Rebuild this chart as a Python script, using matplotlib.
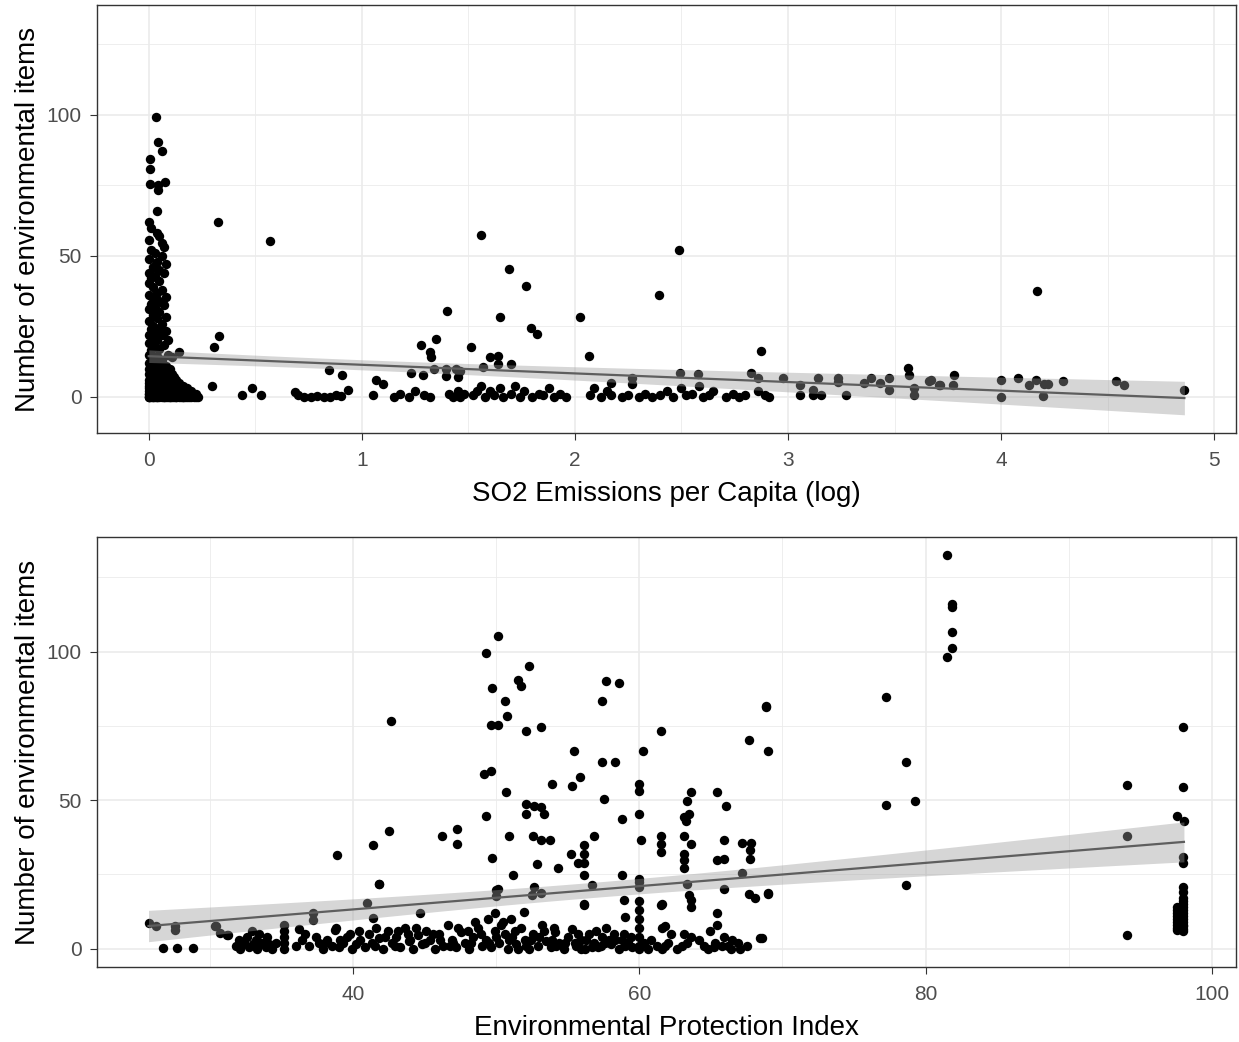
import numpy as np
import matplotlib
matplotlib.use("Agg")
import matplotlib.pyplot as plt

plt.rcParams['font.family'] = ['Liberation Sans', 'DejaVu Sans']

# ---- top panel: SO2 emissions (log) vs number of items ----
so2_near_zero = [
    (0.034, 99.2), (0.042, 90.5), (0.062, 87.2), (0.006, 84.4), (0.006, 81), (0.006, 75.4),
    (0.045, 75.2), (0.075, 76.3), (0.045, 73.4), (0.04, 66), (0.003, 62.2), (0.01, 59.8),
    (0.04, 58), (0.05, 56.9), (0.06, 54.5), (0.07, 53.3), (0.003, 55.7),
    (0.01, 52), (0.03, 51), (0.06, 50), (0.0, 49), (0.04, 48), (0.08, 47), (0.02, 46),
    (0.05, 45), (0.0, 44), (0.07, 44), (0.03, 43), (0.01, 42), (0.05, 41), (0.0, 40.4),
    (0.02, 39), (0.06, 38), (0.04, 37), (0.0, 36), (0.08, 35.5), (0.02, 35), (0.05, 34),
    (0.01, 33), (0.07, 32.5), (0.03, 32), (0.0, 31), (0.05, 30), (0.02, 29), (0.08, 28.5),
    (0.04, 28), (0.0, 27), (0.06, 26), (0.02, 25), (0.05, 24.5), (0.01, 24), (0.08, 23.5),
    (0.03, 23), (0.0, 22), (0.06, 22), (0.09, 20.2), (0.02, 21), (0.04, 20), (0.0, 19),
    (0.07, 18.5), (0.03, 18), (0.05, 17), (0.01, 16.5), (0.14, 16), (0.09, 15), (0.0, 15),
    (0.04, 14.5), (0.11, 14), (0.02, 13.5), (0.06, 13),
    (0.0, 12), (0.03, 12), (0.06, 12), (0.01, 11), (0.05, 11), (0.08, 11),
    (0.0, 10), (0.03, 10), (0.07, 10), (0.1, 10), (0.02, 9), (0.05, 9), (0.09, 9),
    (0.0, 8), (0.04, 8), (0.07, 8), (0.11, 8), (0.01, 7), (0.03, 7), (0.06, 7), (0.09, 7),
    (0.12, 7), (0.0, 6), (0.05, 6), (0.08, 6), (0.13, 6), (0.02, 5), (0.04, 5), (0.07, 5),
    (0.1, 5), (0.14, 5), (0.0, 4), (0.03, 4), (0.06, 4), (0.09, 4), (0.12, 4), (0.16, 4),
    (0.01, 3), (0.05, 3), (0.08, 3), (0.11, 3), (0.15, 3), (0.18, 3), (0.0, 2), (0.03, 2),
    (0.06, 2), (0.1, 2), (0.13, 2), (0.17, 2), (0.2, 2), (0.02, 1), (0.05, 1), (0.08, 1),
    (0.12, 1), (0.15, 1), (0.19, 1), (0.22, 1), (0.0, 0), (0.02, 0), (0.04, 0), (0.07, 0),
    (0.1, 0), (0.13, 0), (0.16, 0), (0.18, 0), (0.21, 0), (0.23, 0),
    (0.324, 62), (0.567, 55.4), (0.33, 21.6), (0.305, 17.6), (0.297, 3.9), (0.437, 0.6),
    (0.484, 3), (0.527, 0.7), (0.684, 1.9),
]
# overlapping low counts hidden inside the dense block near zero
so2_zero_stack = [
    (0.0, 0), (0.01, 0), (0.03, 0), (0.05, 0), (0.06, 0), (0.08, 0), (0.09, 0), (0.11, 0),
    (0.12, 0), (0.14, 0), (0.15, 0), (0.17, 0), (0.19, 0), (0.2, 0), (0.22, 0),
    (0.0, 1), (0.01, 1), (0.03, 1), (0.04, 1), (0.06, 1), (0.07, 1), (0.09, 1), (0.1, 1),
    (0.11, 1), (0.13, 1), (0.14, 1), (0.16, 1), (0.17, 1), (0.18, 1), (0.2, 1), (0.21, 1),
    (0.01, 2), (0.02, 2), (0.04, 2), (0.05, 2), (0.07, 2), (0.08, 2), (0.09, 2), (0.11, 2),
    (0.12, 2), (0.14, 2), (0.15, 2), (0.16, 2), (0.18, 2), (0.19, 2),
    (0.0, 3), (0.02, 3), (0.03, 3), (0.04, 3), (0.06, 3), (0.07, 3), (0.09, 3), (0.1, 3),
    (0.12, 3), (0.13, 3), (0.14, 3), (0.16, 3), (0.17, 3),
    (0.01, 4), (0.02, 4), (0.04, 4), (0.05, 4), (0.07, 4), (0.08, 4), (0.1, 4), (0.11, 4),
    (0.13, 4), (0.14, 4), (0.15, 4), (0.0, 5), (0.01, 5), (0.03, 5), (0.05, 5), (0.06, 5),
    (0.08, 5), (0.09, 5), (0.11, 5), (0.12, 5), (0.0, 0), (0.02, 0), (0.04, 0), (0.07, 0),
    (0.1, 0), (0.13, 0), (0.16, 0), (0.0, 1), (0.02, 1), (0.05, 1), (0.08, 1), (0.12, 1),
]
so2_middle = [
    (0.70, 0.5), (0.73, 0), (0.76, 0), (0.79, 0.3), (0.82, 0), (0.85, 0), (0.88, 0.5),
    (0.846, 9.6), (0.909, 7.8), (0.936, 2.5), (0.9, 0.3), (1.05, 0.5), (1.066, 6), (1.097, 4.6),
    (1.15, 0), (1.18, 1), (1.22, 0), (1.23, 8.4), (1.25, 2), (1.285, 7.8), (1.29, 0.5),
    (1.32, 0), (1.277, 18.3), (1.32, 16), (1.324, 14.3), (1.346, 20.4), (1.34, 10),
    (1.394, 10), (1.399, 30.3), (1.41, 1), (1.43, 0), (1.44, 10), (1.45, 2), (1.46, 9),
    (1.46, 0), (1.48, 1), (1.394, 7.5), (1.45, 7), (1.513, 17.7), (1.52, 0.5), (1.54, 2),
    (1.559, 57.4), (1.567, 10.7), (1.56, 4), (1.58, 0), (1.60, 14.3), (1.60, 2), (1.62, 0.5),
    (1.637, 11.7), (1.64, 14.5), (1.646, 28.3), (1.65, 3), (1.66, 0), (1.689, 45.4),
    (1.70, 11.7), (1.70, 1), (1.72, 4), (1.74, 0), (1.76, 2), (1.77, 39.5), (1.793, 24.3),
    (1.80, 0), (1.822, 22.3), (1.83, 1), (1.85, 0.5), (1.88, 3), (1.90, 0), (1.93, 1),
    (1.96, 0), (2.022, 28.3), (2.067, 14.4), (2.07, 0.5), (2.09, 3), (2.12, 0), (2.15, 2),
    (2.17, 5), (2.17, 0.5),
]
so2_right = [
    (2.22, 0), (2.25, 0.5), (2.27, 6.6), (2.27, 4.6), (2.30, 0), (2.33, 1), (2.36, 0),
    (2.393, 36.2), (2.40, 0.5), (2.43, 2), (2.46, 0), (2.487, 52.1), (2.494, 8.6), (2.50, 3),
    (2.52, 0.5), (2.55, 1), (2.576, 8.2), (2.58, 4), (2.60, 0), (2.63, 0.5), (2.65, 2),
    (2.71, 0), (2.74, 1), (2.77, 0), (2.80, 0.5), (2.826, 8.6), (2.857, 6.6), (2.873, 16.4),
    (2.86, 2), (2.89, 0.5), (2.91, 0), (2.978, 6.6), (3.056, 4.3), (3.056, 0.5), (3.115, 2.5),
    (3.139, 6.6), (3.115, 0.5), (3.155, 0.5), (3.233, 6.6), (3.233, 5.3), (3.27, 0.5),
    (3.358, 4.8), (3.39, 6.6), (3.433, 4.8), (3.476, 6.6), (3.476, 2.5), (3.561, 10.1),
    (3.569, 7.8), (3.59, 3.1), (3.59, 0.7), (3.663, 5.8), (3.71, 4.3),
    (3.671, 6), (3.715, 4.3), (3.773, 4.3), (3.78, 7.8), (4.0, 6), (4.0, 0.1), (4.078, 6.6),
    (4.169, 37.6), (4.133, 4.3), (4.164, 6), (4.203, 4.6), (4.196, 0.4), (4.22, 4.6),
    (4.292, 5.8), (4.537, 5.8), (4.579, 4.3), (4.86, 2.5),
]

# ---- bottom panel: EPI vs number of items ----
epi_left = [
    (25.7, 8.8), (26.2, 7.5), (27.56, 7.7), (27.56, 6.4), (26.74, 0.2), (27.67, 0.2),
    (28.79, 0.2), (30.35, 7.5), (30.44, 7.5), (30.7, 5.2), (31.16, 4.7), (31.26, 4.7),
    (31.8, 1), (32.1, 0), (32.4, 2), (32.7, 0.5), (32.9, 6), (33.0, 1.5), (33.3, 0),
    (33.4, 5), (33.6, 2), (33.9, 0.5), (34.1, 1.5), (34.3, 0), (35.2, 8), (35.2, 6),
    (35.2, 4), (35.2, 2), (35.2, 0), (36.2, 6.5), (36.4, 3), (36.9, 1), (37.19, 11.9),
    (37.2, 9.7), (37.6, 2), (37.9, 0), (38.2, 3), (38.5, 1), (38.7, 6.4), (38.77, 6.9),
    (38.88, 31.7), (39.0, 0.5), (39.3, 2), (39.6, 4), (39.9, 0), (40.2, 1.5),
    (40.96, 15.5), (41.37, 34.8), (41.4, 10.3), (41.77, 21.7), (42.53, 39.6),
    (42.65, 76.6), (44.7, 11.9), (46.19, 37.9), (47.24, 40.4), (47.24, 35.4),
]
epi_low = [
    (40.5, 3), (40.8, 0.5), (41.1, 5), (41.5, 1), (41.8, 3.5), (42.1, 0), (42.4, 6),
    (42.7, 2), (43.0, 4), (43.3, 0.5), (43.6, 7), (43.9, 2.5), (44.2, 0), (44.5, 4.5),
    (44.8, 1.5), (45.1, 6), (45.4, 3), (45.7, 0), (46.0, 5), (46.3, 1), (46.6, 8), (46.9, 3),
    (47.2, 0.5), (47.5, 5.5), (47.8, 2), (48.1, 0), (48.4, 4), (48.7, 7), (49.0, 1),
    (49.3, 3), (49.6, 0.5), (49.9, 6), (50.2, 2), (50.5, 9), (50.8, 0), (51.1, 4),
    (51.4, 1.5), (51.7, 7), (52.0, 3), (52.3, 0), (52.6, 5), (52.9, 1), (53.2, 8),
    (53.5, 2.5), (53.8, 0.5), (54.1, 5.5), (54.4, 2), (54.7, 0), (55.0, 4), (55.3, 6.5),
    (55.6, 1), (55.9, 3), (56.2, 0), (56.5, 5), (56.8, 2), (57.1, 0.5), (57.4, 4),
    (57.7, 7), (58.0, 1.5), (58.3, 3), (58.6, 0), (58.9, 5), (59.2, 2), (59.5, 0.5),
    (59.98, 16), (59.98, 13), (59.98, 10), (59.98, 7), (59.98, 4), (59.98, 1), (60.3, 2),
    (60.6, 0), (41.3, 2), (42.9, 1), (44.0, 3), (45.6, 5), (46.8, 1), (48.0, 6), (49.5, 2),
    (50.9, 3), (52.1, 1), (53.0, 4), (54.2, 1), (55.5, 2), (56.7, 0.5), (57.9, 3), (59.0, 1),
    (43.8, 5), (47.0, 2), (50.0, 4), (51.5, 0), (53.9, 3), (55.9, 0), (57.3, 1),
    (49.4, 10), (49.9, 12), (50.3, 8), (51.95, 12.5), (51.0, 10), (48.5, 9),
]
epi_low_extra = [
    (32.0, 3), (32.6, 4), (33.2, 3), (34.0, 4), (34.6, 2), (36.0, 1), (36.6, 5), (37.4, 4),
    (38.0, 2), (39.1, 3), (39.8, 5), (40.4, 6), (41.6, 7), (42.2, 4), (43.1, 6), (44.4, 7),
    (45.0, 2), (46.1, 3), (47.3, 7), (48.2, 2), (48.9, 5), (50.6, 5), (51.3, 6), (52.4, 3),
    (53.3, 6), (54.0, 7), (54.8, 2), (55.7, 5), (56.3, 3), (57.0, 6), (57.6, 2), (58.2, 5),
    (58.8, 3), (59.4, 4), (60.0, 0), (60.8, 3), (61.2, 1), (62.0, 2), (62.6, 0), (63.0, 1),
    (63.6, 4), (64.2, 3), (64.8, 0), (65.3, 2), (65.8, 1), (66.4, 0), (66.9, 2), (67.5, 1),
]
epi_mid = [
    (50.1, 105.4), (49.28, 99.4), (52.3, 95.3), (51.5, 90.5), (51.7, 88.3), (49.7, 87.7),
    (57.65, 90.2), (58.6, 89.6), (57.4, 83.3), (50.6, 83.3), (50.75, 78.3), (49.6, 75.3),
    (50.1, 75.3), (52.07, 73.2), (53.1, 74.6), (61.54, 73.2), (68.82, 81.4), (67.65, 70.2),
    (68.98, 66.6), (55.44, 66.6), (60.26, 66.6), (57.38, 62.9), (58.3, 62.9), (49.16, 58.8),
    (49.63, 59.9), (55.84, 57.9), (55.28, 54.8), (53.87, 55.4), (50.7, 52.6), (59.98, 55.4),
    (59.98, 53.2), (63.6, 52.9), (63.3, 49.8), (65.45, 52.8), (57.54, 50.4), (52.07, 48.7),
    (52.65, 48.2), (53.1, 47.6), (52.07, 45.4), (53.34, 45.4), (66.03, 47.9), (49.28, 44.8),
    (59.98, 45.4), (58.8, 43.5), (63.1, 44.2), (63.47, 45.4), (63.24, 43.1), (50.9, 37.8),
    (52.54, 37.8), (53.12, 36.7), (53.77, 36.7), (56.86, 37.8), (60.1, 36.7), (61.5, 38.1),
    (61.5, 35.4), (61.5, 32.5), (63.1, 37.8), (63.6, 35.4), (65.9, 36.7), (65.45, 29.8),
    (65.9, 30.3), (67.2, 35.5), (67.8, 35.5), (67.7, 33.1), (67.7, 30.3), (67.2, 25.5),
    (56.1, 34.8), (56.1, 32), (55.2, 32), (55.68, 28.7), (56.1, 28.7), (56.1, 24.7),
    (49.7, 30.5), (52.84, 28.4), (54.28, 27.3), (51.14, 24.7), (58.8, 24.7), (56.7, 21.6),
    (63.1, 32), (63.1, 29.8), (63.1, 27), (59.98, 23.6), (59.98, 20.8), (63.3, 21.7),
    (65.9, 20), (63.5, 18), (63.6, 16.4), (63.6, 14.1), (67.65, 18.4), (68.05, 17.2),
    (69, 18.4), (61.5, 14.7), (58.9, 16.4), (59, 10.8), (56.1, 14.7), (49.98, 19.7),
    (52.65, 20.8), (53.1, 18.6), (50.1, 20), (49.98, 17.7), (52.5, 18), (41.8, 21.7),
    (60, 22.5), (56.1, 15), (61.6, 15), (61.8, 7.5), (61.8, 0.8), (65.45, 8), (65.2, 0.5),
    (65.9, 4), (65.45, 12), (68.4, 3.6), (61.6, 7.1), (61.6, 0), (62.2, 5), (63.1, 5),
    (63.3, 2), (64.5, 1), (64.9, 6), (66.2, 1), (66.5, 3), (67.0, 0),
]
epi_right = [
    (81.5, 132.5), (81.85, 116.2), (81.85, 115), (81.85, 106.5), (81.85, 101.3), (81.5, 98.3),
    (77.2, 84.6), (68.87, 81.6), (78.6, 62.9), (77.2, 48.5), (79.24, 49.6), (78.6, 21.6),
    (68.98, 18.6), (68.59, 3.6), (94.1, 55.2), (94.1, 37.8), (94.1, 4.7), (98.0, 74.6),
    (98.0, 54.5), (97.6, 44.8), (98.05, 43.1), (98.0, 30.9), (98.0, 28.7), (98.0, 20.8),
    (98.0, 19), (98.0, 17), (98.0, 15), (98.0, 13), (98.0, 11), (98.0, 9), (98.0, 7.5),
    (97.6, 14), (97.6, 10), (97.6, 6.4), (97.6, 12), (98.0, 6),
    (98.0, 8), (98.0, 10), (98.0, 12), (98.0, 14), (98.0, 16), (97.6, 8), (97.6, 9),
    (97.6, 11), (97.6, 13), (97.6, 7), (98.0, 6.5), (97.8, 10.5),
]

so2 = np.array(so2_near_zero + so2_zero_stack + so2_middle + so2_right)
epi = np.array(epi_left + epi_low + epi_low_extra + epi_mid + epi_right)

y_ticks = [0, 50, 100]
y_minor = [25, 75, 125]
so2_ticks = [0, 1, 2, 3, 4, 5]
so2_minor = [0.5, 1.5, 2.5, 3.5, 4.5]
epi_ticks = [40, 60, 80, 100]
epi_minor = [30, 50, 70, 90]


def lm_band(x, y, n=80):
    # straight line fit with 95% band, like geom_smooth(method = "lm")
    b, a = np.polyfit(x, y, 1)
    xs = np.linspace(x.min(), x.max(), n)
    fit = a + b * xs
    resid = y - (a + b * x)
    s = np.sqrt(np.sum(resid ** 2) / (len(x) - 2))
    se = s * np.sqrt(1 / len(x) + (xs - x.mean()) ** 2 / np.sum((x - x.mean()) ** 2))
    return xs, fit, fit - 1.968 * se, fit + 1.968 * se


def panel(ax, d, xlab, xt, xm, xlim, ylim):
    ax.set_facecolor('white')
    for v in xm:
        ax.axvline(v, color='#EBEBEB', lw=0.6, zorder=0)
    for v in y_minor:
        ax.axhline(v, color='#EBEBEB', lw=0.6, zorder=0)
    for v in xt:
        ax.axvline(v, color='#EBEBEB', lw=1.2, zorder=0)
    for v in y_ticks:
        ax.axhline(v, color='#EBEBEB', lw=1.2, zorder=0)
    ax.scatter(d[:, 0], d[:, 1], s=46, color='black', linewidths=0, zorder=2)
    xs, fit, lo, hi = lm_band(d[:, 0], d[:, 1])
    ax.fill_between(xs, lo, hi, color='#999999', alpha=0.4, lw=0, zorder=3)
    ax.plot(xs, fit, color='#5E5E5E', lw=1.6, zorder=4)
    ax.set_xlim(*xlim)
    ax.set_ylim(*ylim)
    ax.set_xticks(xt)
    ax.set_yticks(y_ticks)
    ax.tick_params(axis='both', colors='#333333', labelcolor='#4D4D4D', labelsize=15,
                   length=5, width=0.8)
    ax.tick_params(axis='x', pad=8)
    ax.tick_params(axis='y', pad=6)
    for sp in ax.spines.values():
        sp.set_color('#333333')
        sp.set_linewidth(1.0)
    ax.set_xlabel(xlab, fontsize=20, labelpad=8)
    ax.set_ylabel('Number of environmental items', fontsize=20, labelpad=4)


fig = plt.figure(figsize=(12.39, 10.42), dpi=100)
ax1 = fig.add_axes([0.0783, 0.5845, 0.9194, 0.4107])
ax2 = fig.add_axes([0.0783, 0.0719, 0.9194, 0.4127])

panel(ax1, so2, 'SO2 Emissions per Capita (log)', so2_ticks, so2_minor,
      (-0.243, 5.103), (-12.8, 139))
panel(ax2, epi, 'Environmental Protection Index', epi_ticks, epi_minor,
      (22.1, 101.7), (-6.2, 138.6))

fig.savefig('out.png', dpi=100)
